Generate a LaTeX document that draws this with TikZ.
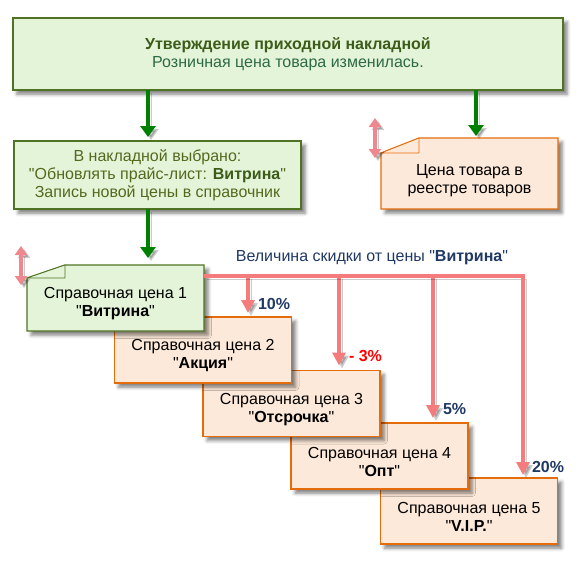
\documentclass[tikz,border=0pt]{standalone}
\usepackage{fontspec}
\setmainfont{Liberation Sans}[Ligatures=TeXOff]
\usetikzlibrary{arrows.meta,calc,shadows,shadows.blur}
\definecolor{gfill}{RGB}{228,244,216}
\definecolor{gborder}{RGB}{79,115,35}
\definecolor{ofill}{RGB}{253,233,217}
\definecolor{oborder}{RGB}{228,108,10}
\definecolor{garr}{RGB}{0,128,0}
\definecolor{rl}{RGB}{244,124,124}
\definecolor{da}{RGB}{238,136,142}
\definecolor{navy}{RGB}{31,56,100}
\definecolor{tone}{RGB}{60,92,25}
\definecolor{ttwo}{RGB}{45,105,70}
\definecolor{tthree}{RGB}{85,105,30}
\begin{document}
\begin{tikzpicture}[x=1pt,y=-1pt,
  every node/.style={font=\fontsize{16}{18}\selectfont, align=center, inner sep=0pt, outer sep=0pt},
  bshadow/.style={blur shadow={shadow xshift=4pt, shadow yshift=-4pt, shadow blur radius=3.5pt, shadow opacity=50}},
  gbox/.style={draw=gborder, fill=gfill, line width=1.2pt, bshadow},
  obox/.style={draw=oborder, fill=ofill, line width=1.2pt, bshadow},
  gfold/.style={draw=gborder, fill=gfill, line width=0.8pt, line join=round},
  ofold/.style={draw=oborder, fill=ofill, line width=0.8pt, line join=round},
  phantom/.style={draw=none, fill=none, minimum width=177pt, minimum height=66pt},
  spbox/.style={obox, minimum width=177pt, minimum height=66pt},
  lshadow/.style={preaction={draw=black, opacity=0.2, transform canvas={xshift=3pt,yshift=-3pt}}},
  garrow/.style={draw=garr, line width=4pt, -{Triangle[width=15pt,length=11pt]}, lshadow},
  rarrow/.style={draw=rl, line width=3.5pt, -{Triangle[width=13pt,length=13pt]}, lshadow},
  darrow/.style={draw=da, line width=4pt, {Triangle[width=12pt,length=9pt]}-{Triangle[width=12pt,length=9pt]}, lshadow},
  pct/.style={font=\fontsize{16}{18}\selectfont\bfseries, text=navy, anchor=west},
]
\useasboundingbox (0,0) rectangle (579,573);

% top box
\node[gbox, minimum width=550pt, minimum height=72pt] (top) at (288,54)
  {{\color{tone}\bfseries Утверждение приходной накладной}\\{\color{ttwo}Розничная цена товара изменилась.}};

% second box
\node[gbox, minimum width=287pt, minimum height=68pt, text=tthree] (sel) at (157.5,175)
  {В накладной выбрано:\\"Обновлять прайс-лист: {\color{tone}\bfseries Витрина}"\\Запись новой цены в справочник};

% note: register price
\node[phantom, minimum height=71pt] (note) at (469.5,173.5) {};
\path[obox] ($(note.north west)+(0,15)$) -- ($(note.north west)+(38,0)$) -- (note.north east) -- (note.south east) -- (note.south west) -- cycle;
\path[ofold] ($(note.north west)+(0,15)$) -- ($(note.north west)+(38,0)$) -- ($(note.north west)+(38,15)$) -- cycle;
\node (notet) at ($(note)+(0,7)$) {Цена товара в\\реестре товаров};

% reference price boxes (later ones below earlier ones)
\node[spbox] (sp5) at (469,511) {};
\node (sp5t) at ($(sp5)+(0,6)$) {Справочная цена 5\\"\textbf{V.I.P.}"};
\node[spbox] (sp4) at (379.5,456) {};
\node (sp4t) at ($(sp4)+(0,6)$) {Справочная цена 4\\"\textbf{Опт}"};
\node[spbox] (sp3) at (291.5,403.5) {};
\node (sp3t) at ($(sp3)+(0,6)$) {Справочная цена 3\\"\textbf{Отсрочка}"};
\node[spbox] (sp2) at (203,350) {};
\node (sp2t) at ($(sp2)+(0,6)$) {Справочная цена 2\\"\textbf{Акция}"};

\node[phantom] (sp1) at (115.5,298) {};
\path[gbox] ($(sp1.north west)+(0,13)$) -- ($(sp1.north west)+(38,0)$) -- (sp1.north east) -- (sp1.south east) -- (sp1.south west) -- cycle;
\path[gfold] ($(sp1.north west)+(0,13)$) -- ($(sp1.north west)+(38,0)$) -- ($(sp1.north west)+(38,13)$) -- cycle;
\node (sp1t) at ($(sp1)+(0,6)$) {Справочная цена 1\\"\textbf{Витрина}"};

% green arrows
\coordinate (ga) at (148,0);
\coordinate (gb) at (476,0);
\draw[garrow] (top.south -| ga) -- ([yshift=4pt]sel.north -| ga);
\draw[garrow] (top.south -| gb) -- ([yshift=2pt]note.north -| gb);
\draw[garrow] (sel.south -| ga) -- ([yshift=7pt]sp1.north -| ga);

% double arrows
\coordinate (dA1) at (375,118);
\coordinate (dA2) at (375,158);
\draw[darrow] (dA1) -- (dA2);
\coordinate (dB1) at (21,246);
\coordinate (dB2) at (21,285);
\draw[darrow] (dB1) -- (dB2);

% discount lines
\coordinate (h1) at (248,276);
\coordinate (h2) at (339,276);
\coordinate (h3) at (433,276);
\coordinate (h4) at (523,276);
\draw[rarrow] (h1) -- ([yshift=4pt]sp2.north -| h1) coordinate (t1);
\draw[rarrow] (h2) -- ([yshift=5pt]sp3.north -| h2) coordinate (t2);
\draw[rarrow] (h3) -- ([yshift=5pt]sp4.north -| h3) coordinate (t3);
\draw[rarrow] (sp1.east |- h4) -- (h4) -- ([yshift=3pt]sp5.north -| h4) coordinate (t4);

\node[text=navy] (lbl) at (372,258) {Величина скидки от цены "\textbf{Витрина}"};
\node[pct] (p1) at ($(t1)+(10,-9)$) {10\%};
\node[pct, text=red] (p2) at ($(t2)+(10,-9)$) {- 3\%};
\node[pct] (p3) at ($(t3)+(10,-9)$) {5\%};
\node[pct] (p4) at ($(t4)+(9,-8)$) {20\%};
\end{tikzpicture}
\end{document}
